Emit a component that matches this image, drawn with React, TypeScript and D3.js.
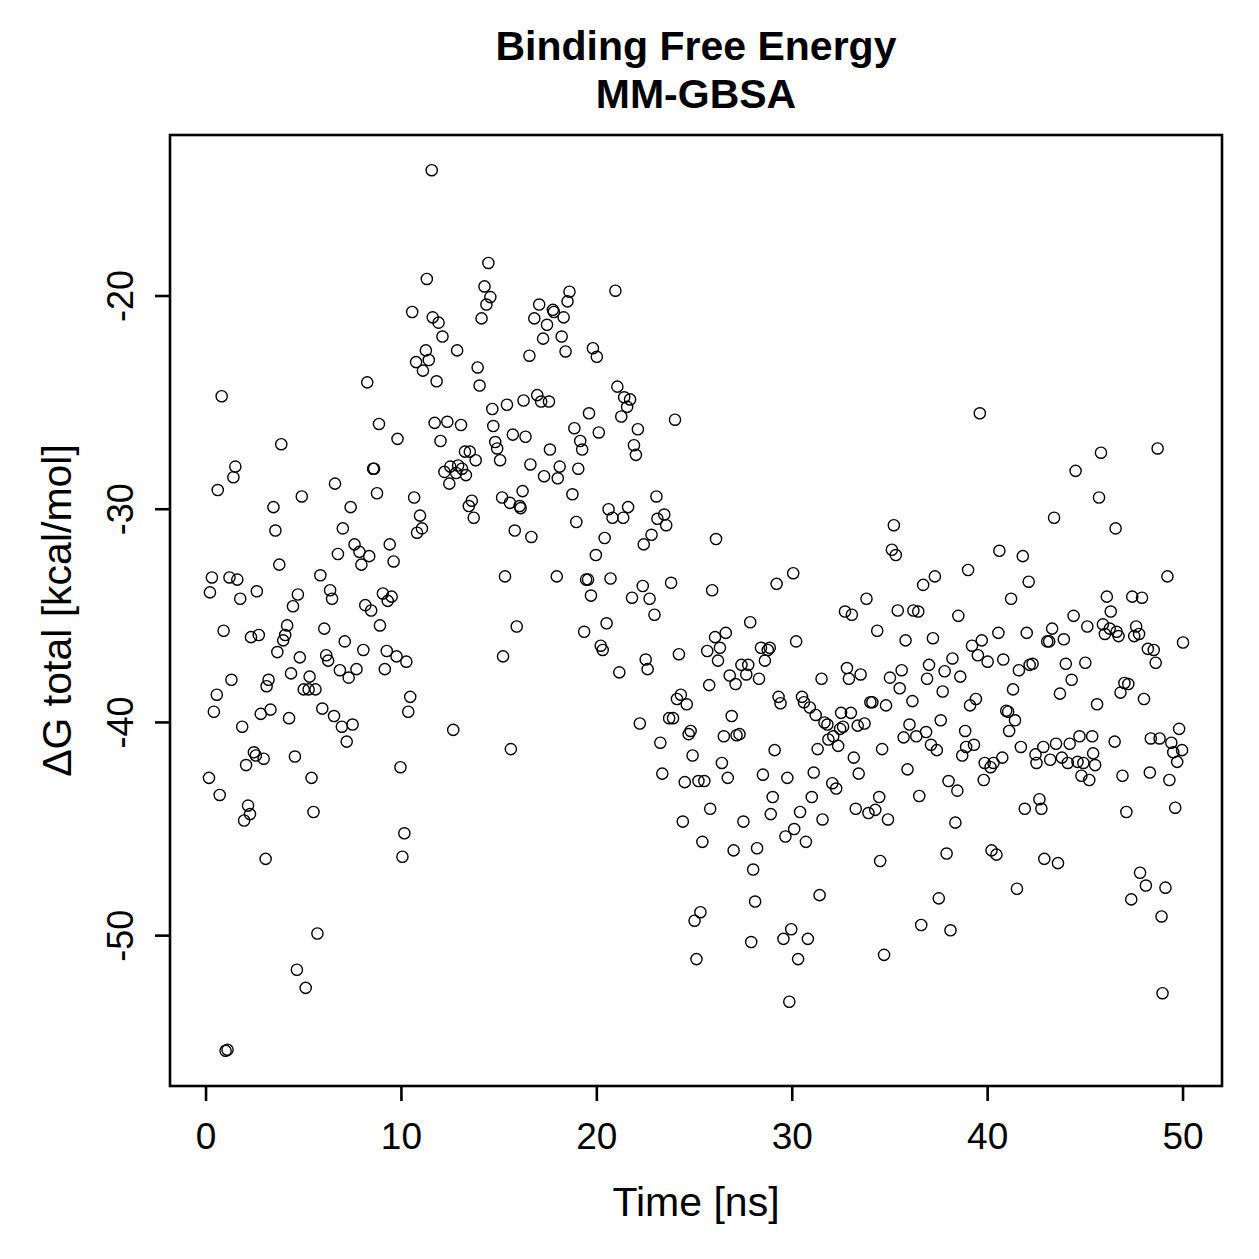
import React from "react";
import { scaleLinear, extent } from "d3";

// time [ns] of each frame
const time = [
  0.15, 0.2, 0.3, 0.4, 0.55, 0.6, 0.7, 0.8, 0.9, 1.0, 1.1, 1.2, 1.3, 1.4, 1.5, 1.6, 1.75, 1.85, 1.95, 2.05,
  2.15, 2.25, 2.3, 2.45, 2.55, 2.6, 2.7, 2.8, 2.95, 3.05, 3.1, 3.2, 3.3, 3.45, 3.55, 3.65, 3.75, 3.85, 3.95, 4.05,
  4.15, 4.25, 4.35, 4.45, 4.55, 4.65, 4.7, 4.8, 4.9, 5.0, 5.1, 5.25, 5.3, 5.4, 5.5, 5.6, 5.7, 5.85, 5.95, 6.05,
  6.15, 6.25, 6.35, 6.45, 6.55, 6.6, 6.75, 6.85, 6.95, 7.0, 7.1, 7.2, 7.3, 7.4, 7.5, 7.6, 7.7, 7.85, 7.95, 8.05,
  8.15, 8.25, 8.35, 8.45, 8.55, 8.6, 8.75, 8.85, 8.9, 9.05, 9.15, 9.25, 9.3, 9.4, 9.5, 9.6, 9.75, 9.8, 9.95, 10.05,
  10.15, 10.25, 10.35, 10.45, 10.55, 10.65, 10.75, 10.8, 10.95, 11.05, 11.1, 11.25, 11.3, 11.4, 11.55, 11.6, 11.7, 11.8, 11.9, 12.0,
  12.1, 12.2, 12.35, 12.45, 12.5, 12.65, 12.8, 12.85, 12.9, 13.05, 13.1, 13.25, 13.3, 13.45, 13.5, 13.6, 13.7, 13.8, 13.9, 14.0,
  14.1, 14.25, 14.35, 14.45, 14.55, 14.65, 14.7, 14.8, 14.9, 15.05, 15.15, 15.2, 15.3, 15.4, 15.55, 15.6, 15.7, 15.8, 15.9, 16.05,
  16.1, 16.2, 16.25, 16.35, 16.55, 16.6, 16.65, 16.8, 16.95, 17.05, 17.15, 17.25, 17.3, 17.45, 17.55, 17.6, 17.75, 17.8, 17.95, 18.0,
  18.1, 18.2, 18.3, 18.4, 18.5, 18.6, 18.75, 18.85, 18.95, 19.05, 19.15, 19.25, 19.35, 19.45, 19.55, 19.6, 19.7, 19.8, 19.95, 20.0,
  20.1, 20.2, 20.3, 20.4, 20.5, 20.6, 20.7, 20.8, 20.95, 21.05, 21.15, 21.25, 21.35, 21.4, 21.55, 21.6, 21.7, 21.8, 21.9, 22.0,
  22.1, 22.2, 22.35, 22.4, 22.5, 22.6, 22.7, 22.8, 22.95, 23.05, 23.1, 23.25, 23.35, 23.45, 23.55, 23.7, 23.8, 23.9, 24.0, 24.2,
  24.3, 24.1, 24.4, 24.5, 24.6, 24.7, 24.8, 24.9, 25.0, 25.1, 25.2, 25.3, 25.4, 25.5, 25.65, 25.75, 25.8, 25.9, 26.05, 26.1,
  26.2, 26.3, 26.4, 26.5, 26.6, 26.7, 26.8, 26.9, 27.0, 27.1, 27.15, 27.3, 27.4, 27.5, 27.65, 27.75, 27.85, 27.9, 28.0, 28.1,
  28.2, 28.3, 28.4, 28.5, 28.6, 28.75, 28.85, 28.9, 29.0, 29.1, 29.2, 29.3, 29.4, 29.55, 29.65, 29.75, 29.85, 29.95, 30.05, 30.1,
  30.2, 30.3, 30.4, 30.5, 30.6, 30.7, 30.8, 30.9, 31.0, 31.1, 31.2, 31.3, 31.4, 31.5, 31.55, 31.65, 31.8, 31.85, 32.05, 32.1,
  32.25, 32.35, 32.45, 32.5, 32.6, 32.7, 32.8, 32.9, 33.0, 33.05, 33.15, 33.25, 33.35, 33.4, 33.7, 33.5, 33.8, 33.9, 34.0, 34.1,
  34.25, 34.35, 34.45, 34.5, 34.6, 34.7, 34.8, 34.9, 35.0, 35.1, 35.2, 35.3, 35.4, 35.5, 35.6, 35.7, 35.8, 35.9, 36.0, 36.15,
  36.2, 36.35, 36.45, 36.5, 36.6, 36.7, 36.85, 36.9, 37.0, 37.1, 37.2, 37.3, 37.4, 37.5, 37.6, 37.7, 37.8, 37.9, 38.0, 38.1,
  38.2, 38.35, 38.45, 38.5, 38.6, 38.7, 38.85, 38.9, 39.0, 39.1, 39.2, 39.3, 39.4, 39.5, 39.6, 39.7, 39.8, 39.85, 40.0, 40.15,
  40.2, 40.3, 40.45, 40.55, 40.6, 40.75, 40.8, 40.95, 41.05, 41.1, 41.2, 41.3, 41.4, 41.5, 41.6, 41.7, 41.8, 41.9, 42.0, 42.1,
  42.15, 42.3, 42.45, 42.5, 42.65, 42.75, 42.85, 42.9, 43.05, 43.15, 43.2, 43.3, 43.4, 43.5, 43.6, 43.7, 43.8, 43.9, 44.0, 44.1,
  44.2, 44.3, 44.4, 44.5, 44.6, 44.7, 44.8, 44.9, 45.0, 45.1, 45.2, 45.35, 45.4, 45.5, 45.6, 45.7, 45.8, 45.9, 46.0, 46.1,
  46.25, 46.3, 46.5, 46.55, 46.6, 46.7, 46.8, 46.9, 47.0, 47.1, 47.2, 47.35, 47.4, 47.5, 47.6, 47.75, 47.8, 47.9, 48.0, 48.1,
  48.2, 48.3, 48.35, 48.5, 48.6, 48.7, 48.8, 48.9, 48.95, 49.1, 49.2, 49.3, 49.4, 49.5, 49.6, 49.7, 49.8, 49.95, 50.0,
];

// Delta G total [kcal/mol], same order as time
const dG = [
  -42.6, -33.9, -33.2, -39.5, -38.7, -29.1, -43.4, -24.7, -35.7, -55.4, -55.35, -33.2, -38.0, -28.5, -28.0, -33.3, -34.2, -40.2, -44.6, -42.0,
  -43.9, -44.3, -36.0, -41.4, -41.55, -33.85, -35.9, -39.6, -41.7, -46.4, -38.3, -38.0, -39.4, -29.9, -31.0, -36.7, -32.6, -26.95, -36.15, -35.9,
  -35.45, -39.8, -37.7, -34.55, -41.6, -51.6, -34.0, -36.95, -29.4, -38.45, -52.45, -38.45, -37.85, -42.6, -44.2, -38.45, -49.9, -33.1, -39.35, -35.6,
  -36.85, -37.1, -33.8, -34.2, -39.7, -28.8, -32.1, -37.55, -40.2, -30.9, -36.2, -40.9, -37.9, -29.9, -40.1, -31.65, -37.5, -32.0, -32.6, -36.6,
  -34.5, -24.05, -32.2, -34.75, -28.1, -28.1, -29.25, -26.0, -35.45, -33.95, -37.5, -36.65, -34.3, -31.65, -34.1, -32.45, -36.9, -26.7, -42.1, -46.3,
  -45.2, -37.15, -39.5, -38.8, -20.75, -29.45, -23.1, -31.1, -30.3, -30.9, -23.5, -22.55, -19.2, -23.0, -14.1, -21.0, -25.95, -24.0, -21.25, -26.8,
  -21.9, -28.25, -25.9, -28.8, -28.0, -40.35, -28.3, -22.55, -27.95, -26.05, -28.1, -27.3, -28.4, -29.85, -27.3, -29.6, -30.4, -27.7, -23.35, -24.2,
  -21.05, -19.55, -20.4, -18.45, -20.05, -25.3, -26.1, -26.85, -27.15, -27.7, -29.45, -36.9, -33.15, -25.1, -29.7, -41.25, -26.5, -31.0, -35.5, -29.85,
  -29.95, -29.15, -24.9, -26.6, -22.8, -27.9, -31.3, -21.05, -24.65, -20.4, -24.95, -22.0, -28.45, -21.35, -24.95, -27.2, -20.65, -20.75, -33.15, -28.55,
  -28.0, -21.9, -21.0, -22.6, -20.25, -19.8, -29.3, -26.2, -30.6, -28.1, -26.8, -27.2, -35.75, -33.3, -33.3, -25.5, -34.05, -22.45, -32.15, -22.85,
  -26.4, -36.4, -36.6, -31.35, -35.35, -30.0, -33.25, -30.4, -19.75, -24.25, -37.65, -25.65, -30.4, -24.75, -25.2, -29.9, -24.85, -34.15, -27.0, -27.45,
  -26.25, -40.05, -33.6, -31.65, -37.05, -37.5, -34.2, -31.2, -34.95, -29.4, -30.45, -40.95, -42.4, -30.25, -30.75, -39.8, -33.45, -39.8, -25.8, -36.8,
  -38.7, -38.9, -44.65, -42.8, -39.15, -40.55, -40.4, -41.55, -49.3, -51.1, -42.75, -48.9, -45.6, -42.75, -36.65, -38.25, -44.05, -33.8, -36.0, -31.4,
  -37.1, -36.5, -41.9, -40.65, -35.8, -42.6, -37.8, -39.7, -46.0, -38.2, -40.6, -40.55, -37.3, -44.65, -37.75, -37.3, -35.3, -50.3, -46.9, -48.4,
  -45.9, -37.95, -36.5, -42.45, -37.1, -36.6, -36.5, -44.3, -43.5, -41.3, -33.5, -38.8, -39.1, -50.15, -45.35, -42.6, -53.1, -49.7, -33.0, -45.0,
  -36.2, -51.1, -44.2, -38.8, -39.05, -45.6, -50.15, -39.3, -43.5, -42.35, -39.65, -41.25, -48.1, -37.95, -44.55, -40.0, -40.1, -40.8, -42.85, -40.65,
  -43.1, -41.1, -40.3, -39.55, -40.2, -34.8, -37.45, -37.95, -39.55, -34.95, -41.65, -44.05, -40.15, -42.4, -40.05, -37.75, -34.2, -44.25, -39.05, -39.05,
  -44.1, -35.7, -43.5, -46.5, -41.25, -50.9, -39.2, -44.55, -37.9, -31.9, -30.75, -32.15, -34.75, -38.4, -37.55, -40.7, -36.15, -42.2, -40.1, -39.0,
  -34.75, -40.65, -34.8, -43.45, -49.5, -33.55, -40.45, -37.95, -37.3, -41.05, -36.05, -33.15, -41.3, -48.25, -39.9, -38.55, -37.6, -46.15, -42.75, -49.75,
  -37.0, -44.7, -43.2, -35.0, -37.85, -41.55, -40.4, -41.15, -32.85, -39.2, -36.4, -41.05, -38.9, -36.85, -25.5, -36.15, -42.7, -41.9, -37.15, -42.1,
  -46.0, -41.9, -46.2, -35.8, -31.95, -41.65, -37.05, -39.45, -39.5, -40.4, -34.2, -38.45, -39.9, -47.8, -37.55, -41.15, -32.2, -44.05, -35.8, -33.4,
  -37.3, -37.25, -41.5, -41.9, -43.6, -44.05, -41.15, -46.4, -36.2, -36.2, -41.75, -35.6, -30.4, -41.0, -46.6, -38.65, -41.65, -36.1, -37.25, -41.9,
  -41.0, -38.0, -35.0, -28.2, -41.85, -40.65, -42.5, -41.9, -37.2, -35.5, -42.7, -40.65, -41.45, -42.0, -39.15, -29.45, -27.35, -35.4, -35.85, -34.1,
  -35.6, -34.8, -40.9, -30.9, -35.75, -35.95, -38.6, -42.5, -38.15, -44.2, -38.2, -48.3, -34.1, -35.95, -35.5, -35.85, -47.05, -34.15, -38.9, -47.65,
  -36.55, -42.35, -40.75, -36.6, -37.2, -27.15, -40.75, -49.1, -52.7, -47.75, -33.15, -42.7, -40.95, -41.4, -44.0, -41.85, -40.3, -41.3, -36.25,
];

const xTicks = [0, 10, 20, 30, 40, 50];
const yTicks = [-50, -40, -30, -20];
const titleLines = ["Binding Free Energy", "MM-GBSA"];
const xLabel = "Time [ns]";
const yLabel = "\u0394G total [kcal/mol]";

// R-style 4% padding on the data range
const pad = (ext) => {
  const d = (ext[1] - ext[0]) * 0.04;
  return [ext[0] - d, ext[1] + d];
};

export default function App() {
  const width = 1259,
    height = 1259,
    margin = { top: 135, right: 37, bottom: 173, left: 170 },
    left = margin.left,
    right = width - margin.right,
    top = margin.top,
    bottom = height - margin.bottom,
    x = scaleLinear().domain(pad(extent(time))).range([left, right]),
    y = scaleLinear().domain(pad(extent(dG))).range([bottom, top]),
    font = "Liberation Sans, Arial, Helvetica, sans-serif",
    tickLen = 15;

  return (
    <svg
      width={width}
      height={height}
      style={{ position: "absolute", left: 0, top: 0, background: "#fff" }}
      fontFamily={font}
    >
      <rect x={0} y={0} width={width} height={height} fill="#fff" />
      {titleLines.map((t, i) => (
        <text
          key={t}
          x={(left + right) / 2}
          y={60 + i * 48}
          textAnchor="middle"
          fontWeight="bold"
          fontSize={41}
        >
          {t}
        </text>
      ))}

      {time.map((t, i) => (
        <circle
          key={i}
          cx={x(t)}
          cy={y(dG[i])}
          r={5.6}
          fill="none"
          stroke="#000"
          strokeWidth={1.4}
        />
      ))}

      <rect
        x={left}
        y={top}
        width={right - left}
        height={bottom - top}
        fill="none"
        stroke="#000"
        strokeWidth={2.6}
      />

      {xTicks.map((v) => (
        <g key={v} transform={`translate(${x(v)},${bottom})`}>
          <line y2={tickLen} stroke="#000" strokeWidth={2.6} />
          <text y={63} textAnchor="middle" fontSize={37}>
            {v}
          </text>
        </g>
      ))}
      <text x={(left + right) / 2} y={1216} textAnchor="middle" fontSize={41}>
        {xLabel}
      </text>

      {yTicks.map((v) => (
        <g key={v} transform={`translate(${left},${y(v)})`}>
          <line x2={-tickLen} stroke="#000" strokeWidth={2.6} />
          <text transform="translate(-37,0) rotate(-90)" textAnchor="middle" fontSize={36}>
            {v}
          </text>
        </g>
      ))}
      <text
        transform={`translate(71,${(top + bottom) / 2}) rotate(-90)`}
        textAnchor="middle"
        fontSize={41}
      >
        {yLabel}
      </text>
    </svg>
  );
}
